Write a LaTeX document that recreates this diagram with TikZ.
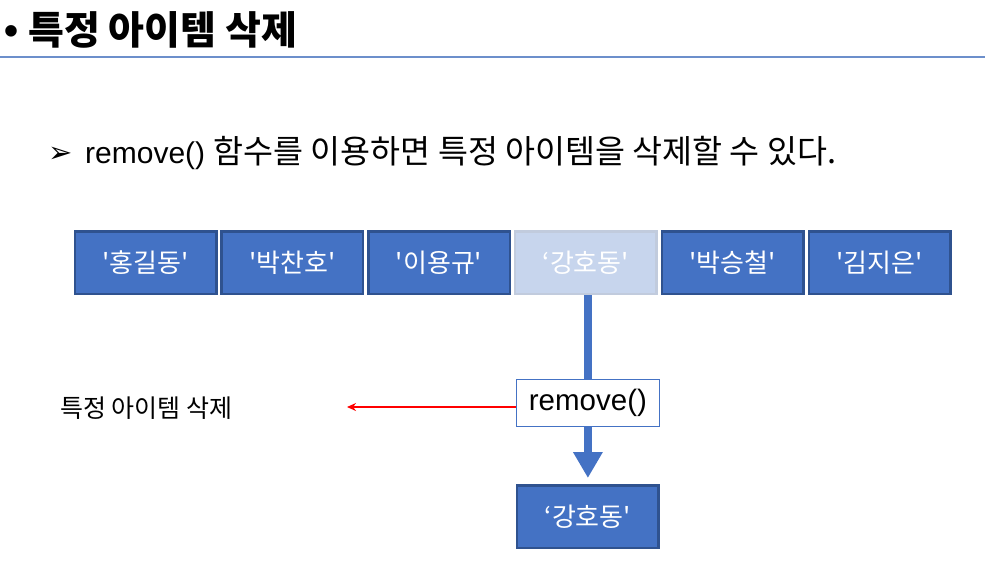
\documentclass[tikz,border=0pt]{standalone}
\usepackage{fontspec}
\setmainfont{Liberation Sans}
\newfontfamily\kr{Noto Sans CJK KR}
\newfontfamily\sym{DejaVu Sans}
\usetikzlibrary{positioning, arrows.meta}
\definecolor{itemblue}{HTML}{4472C4}
\definecolor{itemedge}{HTML}{2F528F}
\definecolor{fadefill}{HTML}{C7D5ED}
\definecolor{fadeedge}{HTML}{C1CBDD}
\definecolor{ruleblue}{HTML}{6C8FCB}

\begin{document}
\begin{tikzpicture}[
			x=1pt, y=-1pt,
			node distance=2.8pt,
			item/.style={rectangle, draw=itemedge, fill=itemblue, line width=2.5pt, minimum width=141.5pt, minimum height=62.5pt, inner sep=0pt, text=white, font=\kr\fontsize{26}{30}\selectfont},
			faded/.style={item, draw=fadeedge, fill=fadefill},
			fn/.style={rectangle, draw=itemblue, fill=white, line width=1pt, minimum width=143pt, minimum height=47pt, inner sep=0pt, font=\fontsize{29.5}{34}\selectfont},
			>={Stealth[length=9pt, width=8pt]}
			]
			\useasboundingbox (0,0) rectangle (985,576);
			
			% Titolo
			\node[anchor=base west, inner sep=0pt] (title) at (4,44) {\fontsize{40}{46}\selectfont\bfseries •\hspace{10pt}{\kr\fontsize{39}{46}\selectfont\bfseries 특정 아이템 삭제}};
			\draw[ruleblue, line width=1.2pt] (0,57) -- (985,57);
			
			% Frase
			\node[anchor=base west, inner sep=0pt] (arw) at (48,162) {\sym\fontsize{29}{32}\selectfont ➢};
			\node[anchor=base west, inner sep=0pt] (intro) at (85,163) {\fontsize{30}{34}\selectfont remove() {\kr\fontsize{32.6}{36}\selectfont 함수를 이용하면 특정 아이템을 삭제할 수 있다.}};
			
			% Lista
			\node[item] (b1) at (145.5,262.5) {'홍길동'};
			\node[item] (b2) [right=of b1] {'박찬호'};
			\node[item] (b3) [right=of b2] {'이용규'};
			\node[faded] (b4) [right=of b3] {‘강호동'};
			\node[item] (b5) [right=of b4] {'박승철'};
			\node[item] (b6) [right=of b5] {'김지은'};
			
			% remove()
			\node[fn] (rm) [below=84pt of b4, xshift=2pt] {remove()};
			\draw[itemblue, line width=8pt] (b4.south -| rm.north) -- (rm.north);
			
			% Risultato
			\node[item] (out) [below=57pt of rm] {‘강호동'};
			\draw[itemblue, line width=8pt, -{Triangle[width=28pt, length=26pt]}, shorten >=6pt] (rm.south) -- (out.north);
			
			% Etichetta
			\node[anchor=west, inner sep=0pt, font=\kr\fontsize{25}{29}\selectfont] (lbl) at (60,408) {특정 아이템 삭제};
			\coordinate (tip) at (347,407);
			\draw[->, red, line width=1.5pt] (rm.west |- tip) -- (tip);
			
		\end{tikzpicture}
\end{document}
